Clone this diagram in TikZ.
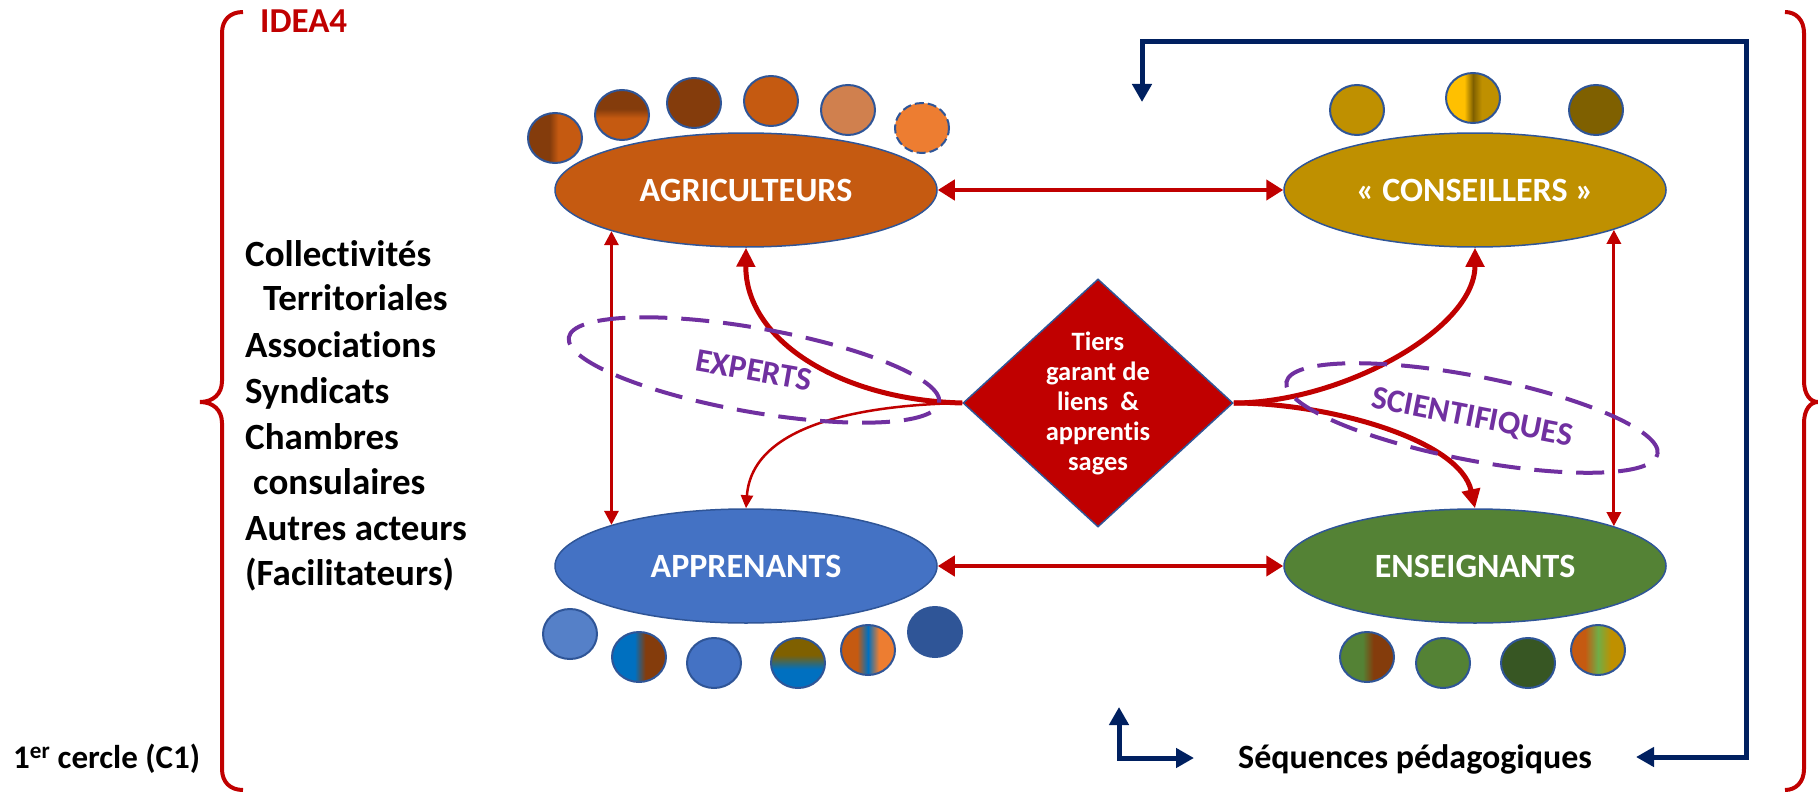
\documentclass[tikz,border=0pt]{standalone}
\usepackage{fontspec}
\setmainfont{Carlito}[Ligatures=NoCommon]
\usetikzlibrary{arrows.meta,shapes.geometric}

\definecolor{cred}{HTML}{C00000}
\definecolor{cnavy}{HTML}{002060}
\definecolor{cpurple}{HTML}{7030A0}
\definecolor{cborder}{HTML}{2F5597}
\definecolor{agor}{HTML}{C55A11}
\definecolor{agbr}{HTML}{843C0C}
\definecolor{aglight}{RGB}{208,128,78}
\definecolor{agbright}{HTML}{ED7D31}
\definecolor{cogold}{HTML}{BF9000}
\definecolor{coyellow}{HTML}{FFC000}
\definecolor{codark}{HTML}{7F6000}
\definecolor{apblue}{HTML}{4472C4}
\definecolor{aplight}{RGB}{85,128,200}
\definecolor{apdark}{HTML}{2F5597}
\definecolor{apsky}{HTML}{0070C0}
\definecolor{engreen}{HTML}{548235}
\definecolor{endark}{HTML}{375623}
\definecolor{enlight}{HTML}{70AD47}

\pgfdeclarehorizontalshading{shAgA}{100bp}{color(0bp)=(agbr); color(45bp)=(agbr); color(53bp)=(agor); color(100bp)=(agor)}
\pgfdeclareverticalshading{shAgB}{100bp}{color(0bp)=(agor); color(47bp)=(agor); color(56bp)=(agbr); color(100bp)=(agbr)}
\pgfdeclarehorizontalshading{shCoB}{100bp}{color(0bp)=(coyellow); color(42bp)=(coyellow); color(50bp)=(codark); color(58bp)=(cogold); color(100bp)=(cogold)}
\pgfdeclarehorizontalshading{shApB}{100bp}{color(0bp)=(apsky); color(46bp)=(apsky); color(56bp)=(agbr); color(100bp)=(agbr)}
\pgfdeclareverticalshading{shApD}{100bp}{color(0bp)=(apsky); color(44bp)=(apsky); color(58bp)=(codark); color(100bp)=(codark)}
\pgfdeclarehorizontalshading{shApE}{100bp}{color(0bp)=(agor); color(40bp)=(agor); color(50bp)=(apsky); color(60bp)=(agbright); color(100bp)=(agbright)}
\pgfdeclarehorizontalshading{shEnA}{100bp}{color(0bp)=(engreen); color(46bp)=(engreen); color(56bp)=(agbr); color(100bp)=(agbr)}
\pgfdeclarehorizontalshading{shEnD}{100bp}{color(0bp)=(agor); color(38bp)=(agor); color(50bp)=(enlight); color(62bp)=(cogold); color(100bp)=(cogold)}

\tikzset{
  dot/.style={ellipse, draw=cborder, line width=2pt, minimum width=54pt, minimum height=50pt, inner sep=0pt},
  actor/.style={ellipse, draw=cborder, line width=1.5pt, minimum width=382pt, minimum height=114pt, inner sep=0pt, text=white, font=\fontsize{34}{40}\selectfont\bfseries},
  fieldell/.style={ellipse, draw=cpurple, line width=4pt, dash pattern=on 28pt off 14pt, inner sep=0pt, text=cpurple, font=\fontsize{33}{38}\selectfont\bfseries},
  linkarrow/.style={draw=cred, line width=4.5pt, arrows={Triangle[length=17pt,width=20pt]-Triangle[length=17pt,width=20pt]}},
  sidearrow/.style={draw=cred, line width=3pt, arrows={Triangle[length=14pt,width=14pt]-Triangle[length=14pt,width=14pt]}},
  boldcurve/.style={draw=cred, line width=5pt, arrows={-Triangle[length=19pt,width=18pt]}},
  thincurve/.style={draw=cred, line width=2.5pt, arrows={-Triangle[length=13pt,width=12pt]}},
  navyline/.style={draw=cnavy, line width=5pt, arrows={Triangle[length=18pt,width=19pt]-Triangle[length=18pt,width=19pt]}},
  bracel/.style={draw=cred, line width=4pt},
  sidetext/.style={anchor=base west, inner sep=0pt, font=\fontsize{37}{44}\selectfont\bfseries},
}

\begin{document}
\begin{tikzpicture}[x=1pt, y=-1pt]
\useasboundingbox (0,0) rectangle (1818,792);

% braces
\draw[bracel] (243,12) .. controls (230,12) and (222,20) .. (222,33) -- (222,381) .. controls (222,394) and (213,402) .. (200,402) .. controls (213,402) and (222,410) .. (222,423) -- (222,769) .. controls (222,782) and (230,790) .. (243,790);
\draw[bracel] (1785,12) .. controls (1796,12) and (1804,20) .. (1804,33) -- (1804,381) .. controls (1804,394) and (1810,402) .. (1818,402) .. controls (1810,402) and (1804,410) .. (1804,423) -- (1804,769) .. controls (1804,782) and (1796,790) .. (1785,790);

\node[anchor=base west, inner sep=0pt, text=cred, font=\fontsize{35}{42}\selectfont\bfseries] (idea) at (260,33) {IDEA4};

% left list
\node[sidetext] (l1) at (245,266) {Collectivités};
\node[sidetext] (l2) at (263,310) {Territoriales};
\node[sidetext] (l3) at (245,357) {Associations};
\node[sidetext] (l4) at (245,403) {Syndicats};
\node[sidetext] (l5) at (245,449) {Chambres};
\node[sidetext] (l6) at (253,494) {consulaires};
\node[sidetext] (l7) at (245,540) {Autres acteurs};
\node[sidetext] (l8) at (245,585) {(Facilitateurs)};
\node[anchor=base west, inner sep=0pt, font=\fontsize{33}{40}\selectfont\bfseries] (cercle) at (13,768) {1\textsuperscript{er} cercle (C1)};

% navy connectors
\coordinate (nv1) at (1142,102);
\coordinate (nv2) at (1636,757);
\coordinate (nv3) at (1119,707);
\coordinate (nv4) at (1194,758);
\draw[navyline] (nv1) -- (1142,42) -- (1746,42) -- (1746,757) -- (nv2);
\draw[navyline] (nv3) -- (1119,758) -- (nv4);
\node[anchor=base west, inner sep=0pt, font=\fontsize{34}{40}\selectfont\bfseries] (seq) at (1238,768) {Séquences pédagogiques};

% small circles
\node[dot, shade, shading=shAgA] (ag1) at (555,138) {};
\node[dot, shade, shading=shAgB] (ag2) at (622,115) {};
\node[dot, fill=agbr] (ag3) at (694,103) {};
\node[dot, fill=agor] (ag4) at (771,101) {};
\node[dot, fill=aglight] (ag5) at (848,110) {};
\node[dot, fill=agbright, dash pattern=on 9pt off 4pt] (ag6) at (922,128) {};

\node[dot, fill=cogold] (co1) at (1357,110) {};
\node[dot, shade, shading=shCoB] (co2) at (1473,98) {};
\node[dot, fill=codark] (co3) at (1596,110) {};

\node[dot, fill=aplight] (ap1) at (570,634) {};
\node[dot, shade, shading=shApB] (ap2) at (639,657) {};
\node[dot, fill=apblue] (ap3) at (714,663) {};
\node[dot, shade, shading=shApD] (ap4) at (798,663) {};
\node[dot, shade, shading=shApE] (ap5) at (868,650) {};
\node[dot, fill=apdark, draw=apdark] (ap6) at (935,632) {};

\node[dot, shade, shading=shEnA] (en1) at (1367,657) {};
\node[dot, fill=engreen] (en2) at (1443,663) {};
\node[dot, fill=endark] (en3) at (1528,663) {};
\node[dot, shade, shading=shEnD] (en4) at (1598,650) {};

% main actors
\node[actor, fill=agor] (agr) at (746,190) {AGRICULTEURS};
\node[actor, fill=cogold] (con) at (1475,190) {« CONSEILLERS »};
\node[actor, fill=apblue] (app) at (746,566) {APPRENANTS};
\node[actor, fill=engreen] (ens) at (1475,566) {ENSEIGNANTS};

% diamond
\node[diamond, draw=cborder, line width=1.5pt, fill=cred, minimum width=270pt, minimum height=248pt, inner sep=0pt] (dia) at (1098,403) {};
\node[align=center, text=white, inner sep=0pt, font=\fontsize{26.5}{30}\selectfont\bfseries] (diatext) at (1098,403) {Tiers\\garant de\\liens~~\&\\apprentis\\sages};

% red connectors
\draw[linkarrow] (agr.east) -- (con.west);
\draw[linkarrow] (app.east) -- (ens.west);
\draw[sidearrow] (agr.197) -- (app.163);
\draw[sidearrow] (con.-16) -- (ens.16);
\draw[boldcurve] (dia.west) .. controls (840,400) and (745,340) .. (agr.south);
\draw[thincurve] (dia.west) .. controls (860,405) and (752,425) .. (app.north);
\draw[boldcurve] (dia.east) .. controls (1340,403) and (1475,330) .. (con.south);
\draw[boldcurve] (dia.east) .. controls (1330,403) and (1460,440) .. (ens.north);

% dashed groups
\node[fieldell, rotate=-10, minimum width=376pt, minimum height=84pt] (exp) at (754,370) {EXPERTS};
\node[fieldell, rotate=-11, minimum width=378pt, minimum height=84pt] (sci) at (1472,418) {SCIENTIFIQUES};
\end{tikzpicture}
\end{document}
